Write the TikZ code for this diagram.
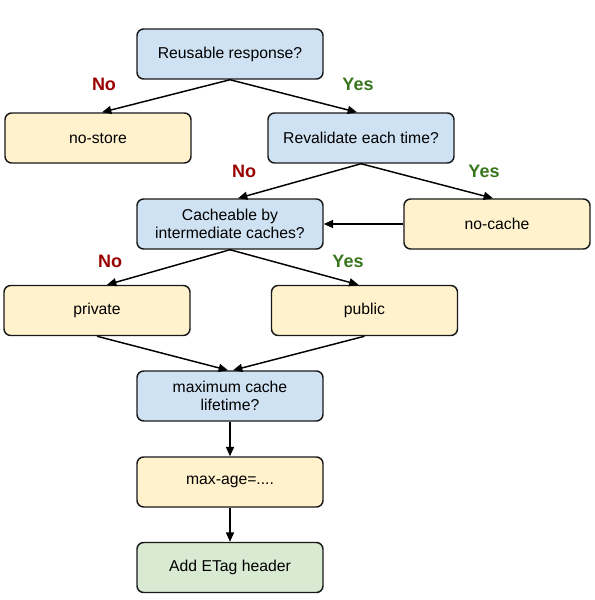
\documentclass[tikz,border=0pt]{standalone}
\usepackage{fontspec}
\setmainfont{Liberation Sans}
\usetikzlibrary{arrows.meta,calc}
\definecolor{qblue}{HTML}{CFE2F3}
\definecolor{ayellow}{HTML}{FFF2CC}
\definecolor{fgreen}{HTML}{D9EAD3}
\definecolor{nored}{HTML}{990000}
\definecolor{yesgreen}{HTML}{38761D}
\tikzset{
  boxbase/.style={draw=black!90, line width=1.1pt, rounded corners=5pt,
    minimum width=139.5pt, minimum height=37.5pt, inner sep=0pt,
    align=center, font=\fontsize{11.8}{14}\selectfont},
  qbox/.style={boxbase, fill=qblue},
  abox/.style={boxbase, fill=ayellow},
  fbox/.style={boxbase, fill=fgreen},
  conn/.style={line width=1.1pt, -{Triangle[length=7pt,width=6pt]}},
  nolab/.style={text=nored, font=\fontsize{13.5}{16}\selectfont\bfseries},
  yeslab/.style={text=yesgreen, font=\fontsize{13.5}{16}\selectfont\bfseries}
}
\begin{document}
\begin{tikzpicture}[x=0.75pt,y=-0.75pt]
\useasboundingbox (0,0) rectangle (595,600);
\node[qbox] (reuse) at (230,54) {Reusable response?};
\node[abox] (nostore) at (98,138) {no-store};
\node[qbox] (reval) at (361,138) {Revalidate each time?};
\node[qbox] (cache) at (230,224) {Cacheable by\\intermediate caches?};
\node[abox] (nocache) at (497,224) {no-cache};
\node[abox] (private) at (97,310.5) {private};
\node[abox] (public) at (364.5,310.5) {public};
\node[qbox] (maxq) at (230,396) {maximum cache\\lifetime?};
\node[abox] (maxage) at (230,482) {max-age=....};
\node[fbox] (etag) at (230,567.5) {Add ETag header};

\draw[conn] (reuse.south) -- ($(nostore.north)+(4,0)$);
\draw[conn] (reuse.south) -- ($(reval.north)+(-4,0)$);
\draw[conn] (reval.south) -- ($(cache.north)+(8,0)$);
\draw[conn] (reval.south) -- ($(nocache.north)+(-4,0)$);
\draw[conn] (nocache.west) -- (cache.east);
\draw[conn] (cache.south) -- ($(private.north)+(10,0)$);
\draw[conn] (cache.south) -- ($(public.north)+(-6,0)$);
\draw[conn] (private.south) -- ($(maxq.north)+(-2,0)$);
\draw[conn] (public.south) -- ($(maxq.north)+(3,0)$);
\draw[conn] (maxq.south) -- (maxage.north);
\draw[conn] (maxage.south) -- (etag.north);

\node[nolab] (l1) at (104,84) {No};
\node[yeslab] (l2) at (358,84) {Yes};
\node[nolab] (l3) at (244,171) {No};
\node[yeslab] (l4) at (484,171) {Yes};
\node[nolab] (l5) at (110,261) {No};
\node[yeslab] (l6) at (348,261) {Yes};
\end{tikzpicture}
\end{document}
